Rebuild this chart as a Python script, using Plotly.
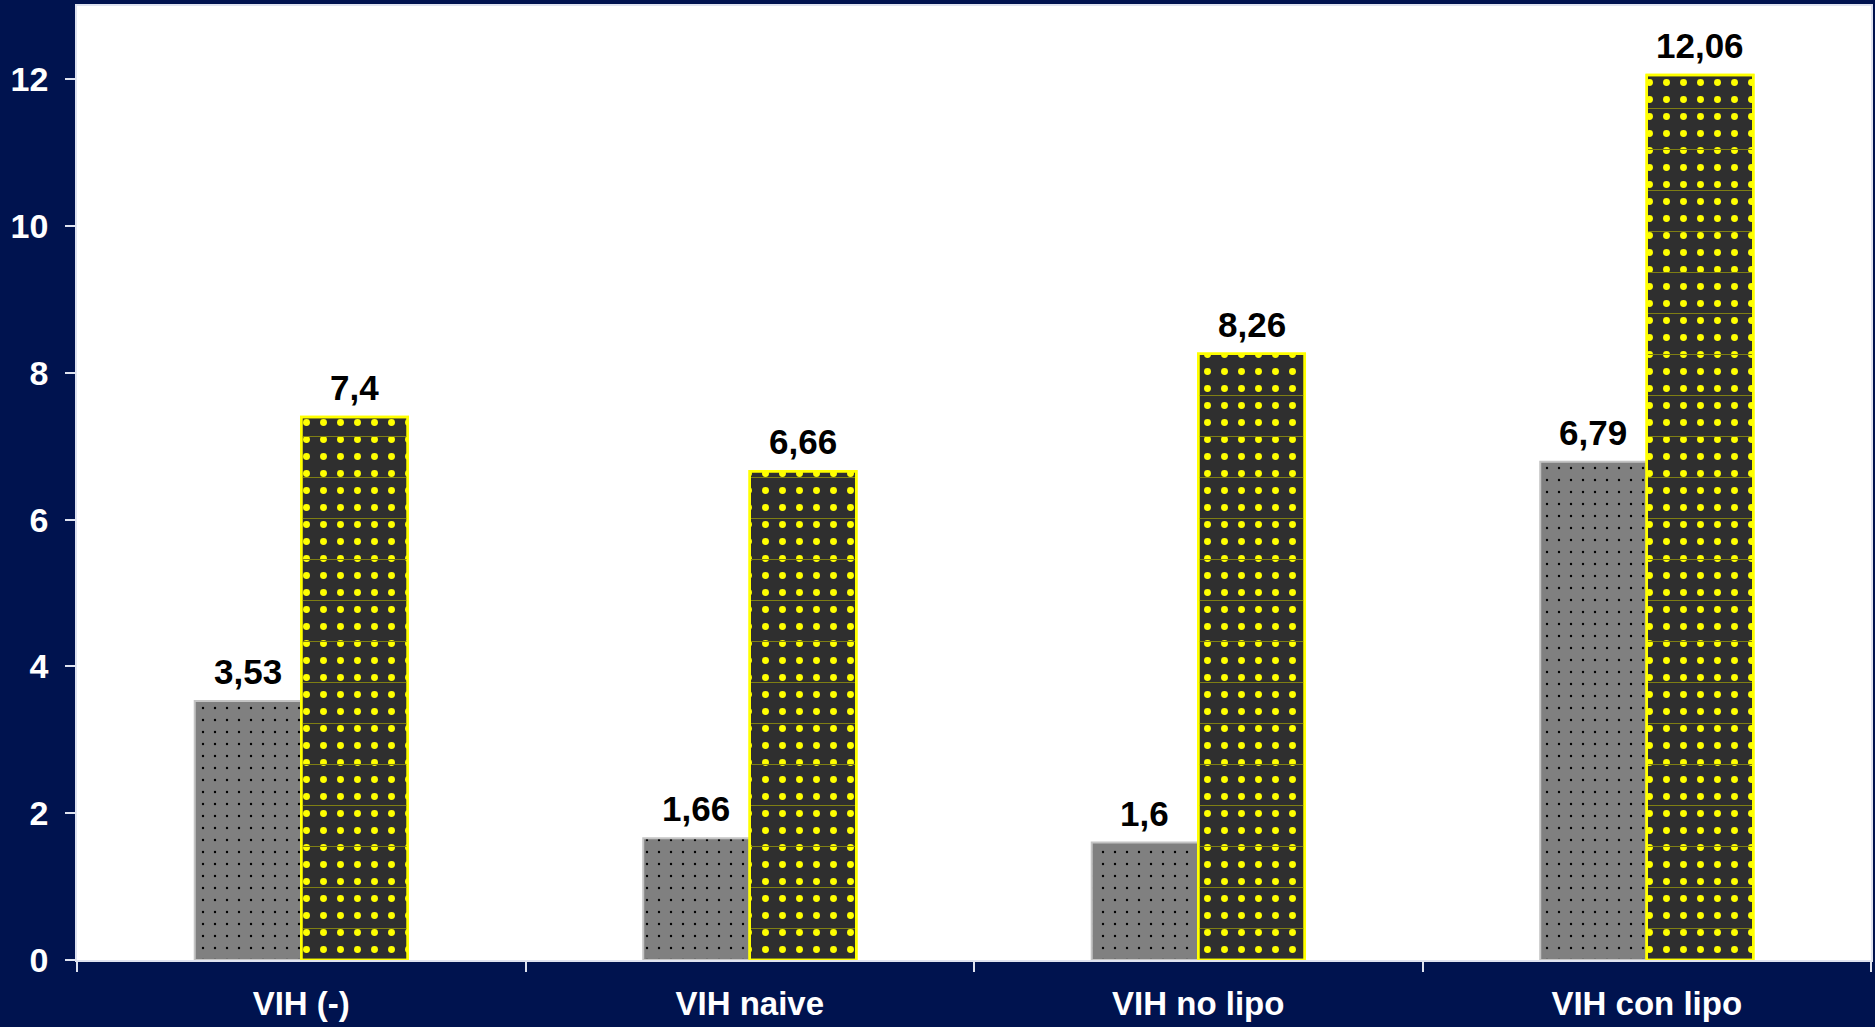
import plotly.graph_objects as go

# Groups and the two series plotted for each
categories = ["VIH (-)", "VIH naive", "VIH no lipo", "VIH con lipo"]
serie_gris = [3.53, 1.66, 1.6, 6.79]
serie_oscura = [7.4, 6.66, 8.26, 12.06]
y_ticks = [0, 2, 4, 6, 8, 10, 12]

NAVY = "#00134f"
FONT = "Liberation Sans, Arial, sans-serif"
BARGAP = 0.525
HALF = (1 - BARGAP) / 4  # offset of each bar centre from the category centre


def etiqueta(v):
    # decimal comma, as in Spanish notation
    return f"{v:g}".replace(".", ",")


fig = go.Figure()

fig.add_trace(go.Bar(
    x=categories, y=serie_gris, offsetgroup="a",
    marker=dict(
        color="#808080",
        line=dict(color="#c4c4c4", width=2),
        pattern=dict(shape=".", fgcolor="#000000", bgcolor="#808080",
                     size=12, solidity=0.03, fgopacity=1, fillmode="overlay"),
    ),
    hoverinfo="skip", showlegend=False,
))

fig.add_trace(go.Bar(
    x=categories, y=serie_oscura, offsetgroup="b",
    marker=dict(
        color="#2f2f2f",
        line=dict(color="#ffff00", width=2.5),
        pattern=dict(shape=".", fgcolor="#ffff00", bgcolor="#2f2f2f",
                     size=17, solidity=0.13, fgopacity=1, fillmode="overlay"),
    ),
    hoverinfo="skip", showlegend=False,
))

# faint horizontal bands inside the dark bars
fig.add_trace(go.Bar(
    x=categories, y=serie_oscura, offsetgroup="b",
    marker=dict(
        color="rgba(0,0,0,0)",
        line=dict(color="#ffff00", width=2.5),
        pattern=dict(shape="-", fgcolor="#7f7f14", bgcolor="rgba(0,0,0,0)",
                     size=41, solidity=0.03, fgopacity=1, fillmode="overlay"),
    ),
    hoverinfo="skip", showlegend=False,
))

# value labels above each bar
for i, (g, d) in enumerate(zip(serie_gris, serie_oscura)):
    for xpos, v in ((i - HALF, g), (i + HALF, d)):
        fig.add_annotation(
            x=xpos, y=v, xref="x", yref="y",
            text=etiqueta(v), showarrow=False,
            yanchor="bottom", yshift=8,
            font=dict(family=FONT, size=35, color="black", weight="bold"),
        )

fig.update_layout(
    width=1875, height=1027,
    margin=dict(l=77, r=2, t=6, b=67),
    paper_bgcolor=NAVY, plot_bgcolor="white",
    barmode="group", bargap=BARGAP, bargroupgap=0,
    font=dict(family=FONT, color="white"),
    xaxis=dict(
        type="category", tickson="boundaries", ticks="outside",
        ticklen=10, tickwidth=1.5, tickcolor="#dfe3f0",
        showline=True, linecolor="#dfe3f0", linewidth=1.5,
        showgrid=False, mirror=True, ticklabelstandoff=14,
        tickfont=dict(family=FONT, size=33, color="white", weight="bold"),
    ),
    yaxis=dict(
        range=[0, 13], tickvals=y_ticks, ticks="outside",
        ticklen=10, tickwidth=1.5, tickcolor="#dfe3f0",
        showline=True, linecolor="#dfe3f0", linewidth=1.5, mirror=True,
        showgrid=False, zeroline=False, ticklabelstandoff=10,
        tickfont=dict(family=FONT, size=34, color="white", weight="bold"),
    ),
)

fig.write_html("out.html")
